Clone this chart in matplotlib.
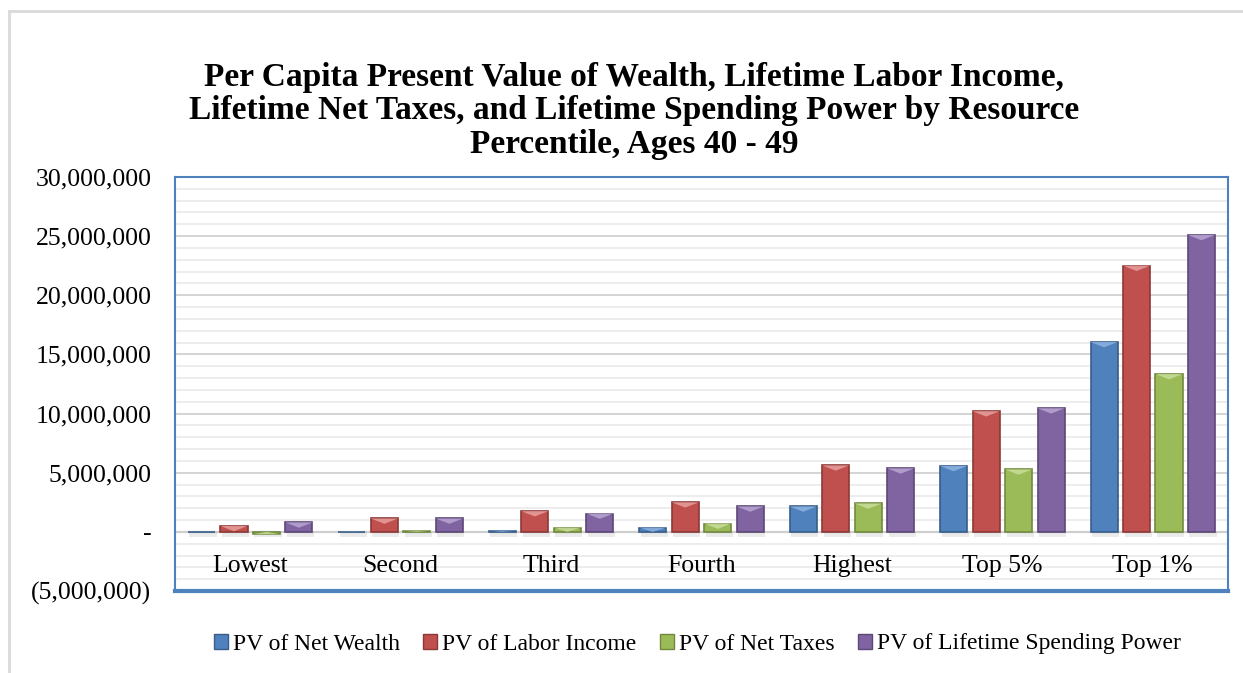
import matplotlib
matplotlib.use("Agg")
import matplotlib.pyplot as plt
import matplotlib.patches as mpatches
from matplotlib.ticker import FuncFormatter, MultipleLocator
import numpy as np

categories = ["Lowest", "Second", "Third", "Fourth", "Highest", "Top 5%", "Top 1%"]
series_names = ["PV of Net Wealth", "PV of Labor Income", "PV of Net Taxes",
                "PV of Lifetime Spending Power"]
net_wealth = [0, 20000, 100000, 350000, 2150000, 5570000, 16050000]
labor_income = [500000, 1130000, 1750000, 2500000, 5620000, 10200000, 22500000]
net_taxes = [-200000, 100000, 350000, 700000, 2400000, 5280000, 13340000]
spending_power = [800000, 1130000, 1550000, 2150000, 5370000, 10450000, 25100000]
title = ("Per Capita Present Value of Wealth, Lifetime Labor Income,\n"
         "Lifetime Net Taxes, and Lifetime Spending Power by Resource\n"
         "Percentile, Ages 40 - 49")

face_colors = ["#4F81BD", "#C0504D", "#9BBB59", "#8064A2"]
edge_colors = ["#385D8A", "#8C3836", "#71893F", "#5C4776"]
top_colors = ["#8DB3E2", "#E6A09E", "#C9DE9A", "#B9A7D3"]

plt.rcParams["font.family"] = ["Liberation Serif", "DejaVu Serif"]

fig = plt.figure(figsize=(12.43, 6.73), dpi=100)
fig.patch.set_facecolor("white")

# outer chart frame
fig.patches.append(mpatches.Rectangle((9 / 1243, -0.1), 1.2, 1 - 11 / 673 + 0.1,
                                      transform=fig.transFigure, fill=False,
                                      edgecolor="#D9D9D9", linewidth=2.0))

ax = fig.add_axes([175 / 1243, 1 - 591 / 673, (1228 - 175) / 1243, (591 - 177) / 673])
ax.set_xlim(-0.5, len(categories) - 0.5)
ax.set_ylim(-5000000, 30000000)

ax.yaxis.set_major_locator(MultipleLocator(5000000))
ax.yaxis.set_minor_locator(MultipleLocator(1000000))


def fmt(v, pos):
    if abs(v) < 1:
        return "-"
    if v < 0:
        return "({:,.0f})".format(-v)
    return "{:,.0f}".format(v)


ax.yaxis.set_major_formatter(FuncFormatter(fmt))
ax.tick_params(axis="y", which="both", length=0, labelsize=18.5, pad=17)
ax.grid(axis="y", which="major", color="#D4D4D4", linewidth=1.4, zorder=0)
ax.grid(axis="y", which="minor", color="#EDEDED", linewidth=1.4, zorder=0)
ax.set_axisbelow(True)

for side in ["top", "right", "left"]:
    ax.spines[side].set_color("#4F81BD")
    ax.spines[side].set_linewidth(1.5)
ax.spines["bottom"].set_visible(False)
# bottom frame line of plot area
ax.axhline(-5000000, color="#4F81BD", linewidth=3, zorder=5, clip_on=False)
ax.axhline(0, color="#CFCFCF", linewidth=1.6, zorder=1)

x = np.arange(len(categories))
slot = 0.216
bw = 0.18
all_series = [net_wealth, labor_income, net_taxes, spending_power]
for i, vals in enumerate(all_series):
    xs = x + (i - 1.5) * slot
    # soft shadow under bars
    ax.bar(xs + 0.01, [-400000] * len(xs), width=bw, color="#000000", alpha=0.08,
           zorder=2, linewidth=0)
    ax.bar(xs, vals, width=bw, color=face_colors[i], edgecolor=edge_colors[i],
           linewidth=1.2, zorder=3, label=series_names[i])
    # lighter bevel chevron at the bar's top
    for xi, v in zip(xs, vals):
        if v == 0:
            continue
        h = min(abs(v), 450000) * np.sign(v)
        tri = mpatches.Polygon([(xi - bw / 2, v), (xi + bw / 2, v), (xi, v - h)],
                               closed=True, facecolor=top_colors[i],
                               edgecolor="none", alpha=0.85, zorder=4)
        ax.add_patch(tri)

ax.set_xticks([])
for xi, c in zip(x, categories):
    ax.text(xi, -2900000, c, ha="center", va="center", fontsize=18.5, color="black")

fig.text(0.51, 1 - 111 / 673, title, ha="center", va="center", fontsize=24,
         fontweight="bold", linespacing=1.12)

handles = [mpatches.Rectangle((0, 0), 1, 1, facecolor=face_colors[i],
                              edgecolor=edge_colors[i], linewidth=1)
           for i in range(4)]
fig.legend(handles, series_names, loc="center", bbox_to_anchor=(0.561, 1 - 644 / 673),
           ncol=4, frameon=False, fontsize=17, handlelength=0.6, handleheight=0.6,
           handletextpad=0.2, columnspacing=1.0)

fig.savefig("out.png", dpi=100, facecolor="white")
